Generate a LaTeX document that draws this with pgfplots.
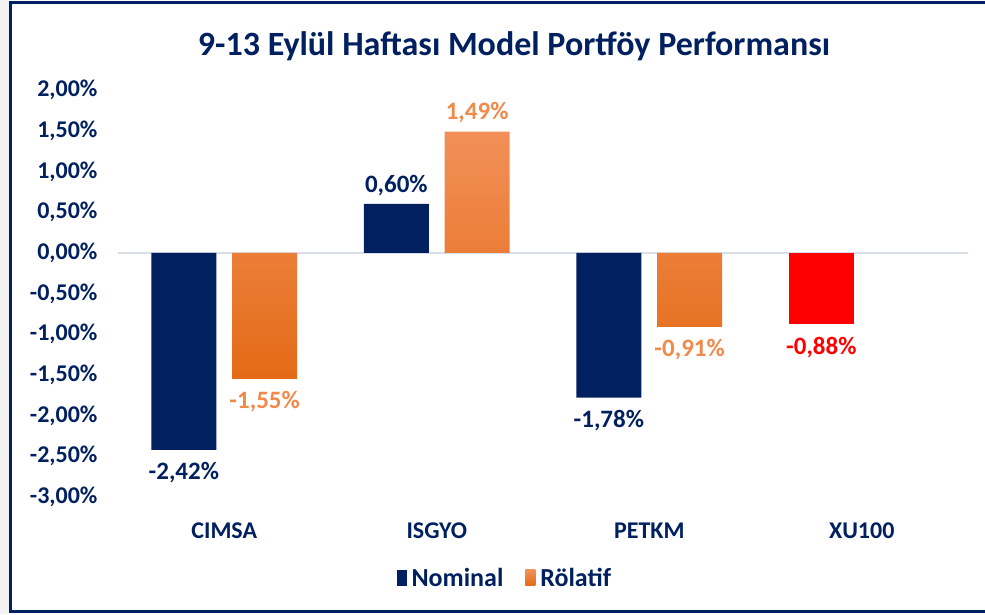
\documentclass[border=0pt]{standalone}
\usepackage{pgfplots}
\pgfplotsset{compat=1.18}
\usepackage{fontspec}
\setmainfont{Carlito}
\definecolor{navy}{HTML}{002060}
\definecolor{orTop}{HTML}{F29058}
\definecolor{orBot}{HTML}{E46A16}
\definecolor{orLab}{HTML}{F08A4B}
\definecolor{lgray}{HTML}{F2F2F2}
\definecolor{zeroline}{HTML}{D9DEE8}
\begin{document}
\begin{tikzpicture}[x=1pt,y=1pt]
\path[use as bounding box] (0,0) rectangle (985,614);
\fill[white] (0,0) rectangle (985,614);
\fill[lgray] (0,0) rectangle (9,614);
\draw[navy, line width=3pt] (985,611.5) -- (10.5,611.5) -- (10.5,2.5) -- (985,2.5);
\node[font=\fontsize{34}{40}\selectfont\bfseries, text=navy] at (514,568) {9-13 Eylül Haftası Model Portföy Performansı};
\begin{axis}[
  at={(118pt,117pt)}, anchor=south west,
  scale only axis, width=850pt, height=407pt,
  xmin=-0.5, xmax=3.5, ymin=-3, ymax=2,
  axis line style={draw=none},
  xtick={0,1,2,3}, xticklabels={CIMSA,ISGYO,PETKM,XU100},
  ytick={-3,-2.5,-2,-1.5,-1,-0.5,0,0.5,1,1.5,2},
  major tick length=0pt,
  tick label style={font=\fontsize{24}{28}\selectfont\bfseries, text=navy},
  yticklabel style={xshift=-17pt},
  xticklabel style={yshift=-22pt},
  yticklabel={\pgfmathprintnumber[fixed,fixed zerofill,precision=2,use comma,assume math mode=true]{\tick}\%},
  visualization depends on={y \as \rawy},
  nodes near coords={\pgfmathprintnumber[fixed,fixed zerofill,precision=2,use comma,assume math mode=true]{\pgfplotspointmeta}\%},
  nodes near coords align={vertical},
  nodes near coords style={font=\fontsize{25}{29}\selectfont\bfseries,
    yshift={ifthenelse(\rawy<0,-9,5)}},
  legend style={at={(0.455,-0.199)}, anchor=center, draw=none, fill=none,
    font=\fontsize{26}{30}\selectfont\bfseries, text=navy,
    legend columns=2, /tikz/every even column/.append style={column sep=20pt}},
  legend image code/.code={\path[#1] (0pt,-8pt) rectangle (10pt,8pt);},
  clip=false,
]
\draw[color=zeroline, line width=1.5pt] (axis cs:-0.5,0) -- (axis cs:3.5,0);
\addplot[ybar, bar width=0.306, bar shift=-0.19, fill=navy, draw=none,
  every node near coord/.append style={text=navy, xshift=-40.4pt}]
  coordinates {(0,-2.42) (1,0.60) (2,-1.78)};
\addlegendentry{\hspace{3pt}Nominal}
\addplot[ybar, bar width=0.306, bar shift=0.19, top color=orTop, bottom color=orBot, draw=none,
  every node near coord/.append style={text=orLab, xshift=40.4pt}]
  coordinates {(0,-1.55) (1,1.49) (2,-0.91)};
\addlegendentry{\hspace{3pt}Rölatif}
\addplot[ybar, bar width=0.306, bar shift=-0.19, fill=red, draw=none, forget plot,
  every node near coord/.append style={text=red, xshift=-40.4pt}]
  coordinates {(3,-0.88)};
\end{axis}
\end{tikzpicture}
\end{document}
